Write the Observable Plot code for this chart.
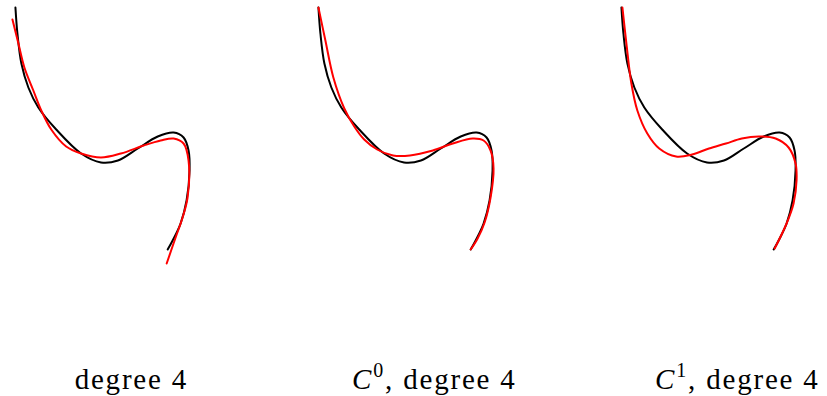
<!DOCTYPE html>
<html>
<head>
<meta charset="utf-8">
<script src="https://cdn.jsdelivr.net/npm/d3@7"></script>
<script src="https://cdn.jsdelivr.net/npm/@observablehq/plot@0.6"></script>
<style>
  html, body { margin: 0; padding: 0; background: #fff; }
</style>
</head>
<body>
<div id="chart"></div>
<script>
// Panel captions, one per approximation scheme.
const panelLabels = ["degree 4", "C0, degree 4", "C1, degree 4"];

// The curve being approximated (same in every panel), as [x, y] points.
const target = [
  [0.70, 19.45], [0.80, 18.15], [1.00, 16.65], [1.35, 15.45], [1.85, 14.45],
  [2.75, 13.35], [4.00, 12.15], [5.00, 11.70], [5.85, 11.80], [6.85, 12.40],
  [7.85, 13.00], [8.65, 13.20], [9.15, 12.95], [9.40, 12.30], [9.45, 11.30],
  [9.30, 9.80], [9.00, 8.65], [8.60, 7.80], [8.35, 7.35]
];

// Degree-4 approximation, no continuity constraint.
const fitFree = [
  [0.55, 18.85], [0.85, 17.65], [1.15, 16.45], [1.60, 15.30], [2.00, 14.30],
  [2.50, 13.35], [3.25, 12.50], [4.00, 12.15], [5.00, 11.95], [6.00, 12.15],
  [7.15, 12.55], [8.00, 12.80], [8.65, 12.90], [9.15, 12.65], [9.40, 11.80],
  [9.35, 9.95], [9.10, 8.95], [8.75, 7.95], [8.30, 6.65]
];

// Degree-4 approximation with C0 continuity at the endpoints.
const fitC0 = [
  [0.70, 19.45], [1.05, 17.80], [1.45, 15.95], [2.00, 14.40], [2.50, 13.50],
  [3.00, 12.85], [3.65, 12.35], [4.45, 12.05], [5.30, 12.05], [6.45, 12.30],
  [7.45, 12.65], [8.45, 12.90], [9.00, 12.80], [9.35, 12.30], [9.50, 11.40],
  [9.35, 9.95], [9.05, 8.70], [8.70, 7.90], [8.35, 7.35]
];

// Degree-4 approximation with C1 continuity at the endpoints.
const fitC1 = [
  [0.75, 19.45], [0.95, 17.65], [1.20, 15.65], [1.50, 14.30], [2.00, 13.15],
  [2.60, 12.40], [3.45, 12.00], [4.25, 12.10], [5.10, 12.40], [5.95, 12.65],
  [6.75, 12.90], [7.60, 13.00], [8.45, 12.90], [9.10, 12.45], [9.45, 11.65],
  [9.50, 10.80], [9.35, 9.65], [9.00, 8.65], [8.40, 7.40]
];

const fits = [fitFree, fitC0, fitC1];

// Long table: one row per point, tagged with its panel and curve.
const rows = [];
panelLabels.forEach((panel, i) => {
  target.forEach(([x, y]) => rows.push({panel, curve: "target", x, y}));
  fits[i].forEach(([x, y]) => rows.push({panel, curve: "fit", x, y}));
});

const chart = Plot.plot({
  width: 827,
  height: 396,
  marginTop: 0,
  marginBottom: 0,
  marginLeft: 0,
  marginRight: 19,
  facet: {data: rows, x: "panel"},
  fx: {domain: panelLabels, paddingInner: 0.342105, paddingOuter: 0, axis: null, label: null},
  x: {domain: [0, 10], axis: null},
  y: {domain: [0, 19.8], axis: null},
  marks: [
    Plot.line(rows, {
      filter: d => d.curve === "target",
      x: "x", y: "y",
      stroke: "black", strokeWidth: 2, curve: "catmull-rom"
    }),
    Plot.line(rows, {
      filter: d => d.curve === "fit",
      x: "x", y: "y",
      stroke: "red", strokeWidth: 2, curve: "catmull-rom"
    }),
    Plot.text(rows, Plot.selectFirst({
      x: 6.525,
      text: "panel",
      frameAnchor: "bottom",
      lineAnchor: "bottom",
      dy: -8,
      fontFamily: "Liberation Serif",
      fontSize: 29,
      fill: "black"
    }))
  ]
});

// Wider tracking for the captions; "C0" / "C1" become an italic C with a superscript digit.
d3.select(chart).selectAll('g[aria-label="text"] text').each(function () {
  d3.select(this).attr("letter-spacing", 1.8);
  const m = /^([A-Z])(\d), (.*)$/.exec(this.textContent);
  if (!m) return;
  const t = d3.select(this).text(null);
  t.append("tspan").attr("font-style", "italic").text(m[1]);
  t.append("tspan").attr("font-size", 20).attr("dy", -12).attr("dx", 0).text(m[2]);
  t.append("tspan").attr("dy", 12).text(", " + m[3]);
});

document.getElementById("chart").appendChild(chart);
</script>
</body>
</html>
